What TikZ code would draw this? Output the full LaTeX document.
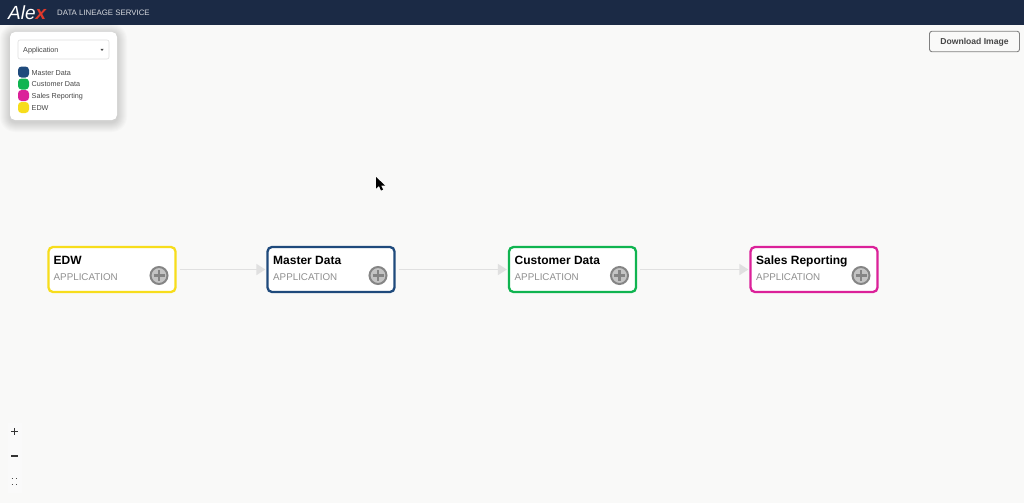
\documentclass[tikz,border=0pt]{standalone}
\usepackage{fontspec}
\setmainfont{Liberation Sans}
\usetikzlibrary{arrows.meta}
\definecolor{navy}{HTML}{1B2A45}
\definecolor{cbg}{HTML}{F9F9F8}
\definecolor{cblue}{HTML}{1F4A7C}
\definecolor{cgreen}{HTML}{10B450}
\definecolor{cpink}{HTML}{DB2199}
\definecolor{cyellow}{HTML}{F7DD1C}
\definecolor{cedge}{HTML}{E0E0E0}
\definecolor{cgrey}{HTML}{8F8F8F}
\definecolor{cplus}{HTML}{C4C4C4}
\definecolor{clogo}{HTML}{E0392B}
\tikzset{
  x=1pt,y=-1pt,
  card/.style={draw=#1,line width=2.3pt,fill=white,rounded corners=4.5pt,minimum width=127pt,minimum height=45pt,inner sep=0pt},
  title/.style={font=\bfseries\fontsize{12}{14}\selectfont,text=black,anchor=base west,inner sep=0pt},
  subtitle/.style={font=\fontsize{9.8}{12}\selectfont,text=cgrey,anchor=base west,inner sep=0pt},
  plusbtn/.style={circle,draw=black!48,line width=2pt,fill=cplus,minimum size=17pt,inner sep=0pt},
  link/.style={draw=cedge,line width=1.7pt,-{Triangle[length=9pt,width=11pt,fill=cedge]},shorten >=1pt},
  swatch/.style={rounded corners=3.5pt,minimum width=11pt,minimum height=11pt,inner sep=0pt},
  legendtext/.style={font=\fontsize{7.2}{9}\selectfont,text=black!72,anchor=base west,inner sep=0pt},
}
\newcommand{\plusmark}[1]{\draw[line width=2.2pt,draw=black!48] ([xshift=-5.5pt]#1.center) -- ([xshift=5.5pt]#1.center) ([yshift=-5.5pt]#1.center) -- ([yshift=5.5pt]#1.center);}
\begin{document}
\begin{tikzpicture}
\useasboundingbox (0,0) rectangle (1024,503);
\fill[cbg] (0,0) rectangle (1024,503);
% header
\fill[navy] (0,0) rectangle (1024,25);
\node[anchor=base west,inner sep=0pt,font=\itshape\fontsize{19}{20}\selectfont,text=white] (logo) at (8,19.5) {Ale\textcolor{clogo}{\bfseries x}};
\node[anchor=base west,inner sep=0pt,font=\fontsize{7.85}{9}\selectfont,text=white!82!navy] (svc) at (57,15.5) {DATA LINEAGE SERVICE};
% legend panel
\foreach \g in {10,9,8,7,6,5,4,3,2,1}
  \fill[black,opacity=.016,rounded corners=5pt+\g pt] (10-\g,32-\g+2) rectangle (117+\g,120+\g+2);
\fill[white,rounded corners=5pt] (10,32) rectangle (117,120);
\node[draw=black!13,rounded corners=2pt,line width=.6pt,minimum width=91pt,minimum height=19pt,inner sep=0pt] (sel) at (63.5,49.5) {};
\node[legendtext] (seltxt) at (23,52.2) {Application};
\fill[black!70] (100.5,49) -- (103.5,49) -- (102,51) -- cycle;
\node[swatch,fill=cblue] (s1) at (23.5,72) {};
\node[swatch,fill=cgreen] (s2) at (23.5,84) {};
\node[swatch,fill=cpink] (s3) at (23.5,95.5) {};
\node[swatch,fill=cyellow] (s4) at (23.5,107.5) {};
\node[legendtext] (l1) at (31.5,75) {Master Data};
\node[legendtext] (l2) at (31.5,86.5) {Customer Data};
\node[legendtext] (l3) at (31.5,98.5) {Sales Reporting};
\node[legendtext] (l4) at (31.5,110) {EDW};
% download button
\node[draw=black!50,fill=cbg,rounded corners=2.5pt,line width=.9pt,minimum width=90pt,minimum height=20.5pt,inner sep=0pt] (dl) at (974.5,41.5) {};
\node[anchor=base,inner sep=0pt,font=\fontsize{8.6}{10}\selectfont\bfseries,text=black!72] (dltxt) at (974.5,44.5) {Download Image};
% cursor
\fill[black] (376,177) -- (376,188.5) -- (379,186) -- (381,190.5) -- (383,189.5) -- (381,185.5) -- (385,185.5) -- cycle;
% cards
\node[card=cyellow] (edw) at (112,269.5) {};
\node[card=cblue] (md) at (331,269.5) {};
\node[card=cgreen] (cd) at (572.5,269.5) {};
\node[card=cpink] (sr) at (814,269.5) {};
% edges
\draw[link] (edw.east) ++(3,0) coordinate (e1) (e1) -- (md.west);
\draw[link] (md.east) ++(3,0) coordinate (e2) (e2) -- (cd.west);
\draw[link] (cd.east) ++(3,0) coordinate (e3) (e3) -- (sr.west);
% card text
\node[title] (t1) at (53.5,264.5) {EDW};
\node[subtitle] (u1) at (53.5,280.5) {APPLICATION};
\node[title] (t2) at (273,264.5) {Master Data};
\node[subtitle] (u2) at (273,280.5) {APPLICATION};
\node[title] (t3) at (514.5,264.5) {Customer Data};
\node[subtitle] (u3) at (514.5,280.5) {APPLICATION};
\node[title] (t4) at (756,264.5) {Sales Reporting};
\node[subtitle] (u4) at (756,280.5) {APPLICATION};
\node[plusbtn] (p1) at (159,275.5) {}; \plusmark{p1}
\node[plusbtn] (p2) at (378,275.5) {}; \plusmark{p2}
\node[plusbtn] (p3) at (619.5,275.5) {}; \plusmark{p3}
\node[plusbtn] (p4) at (861,275.5) {}; \plusmark{p4}
% zoom controls
\fill[white!98!black] (8,423) rectangle (22,493);
\draw[line width=1.1pt,black!80] (11,431.5) -- (18,431.5) (14.5,428) -- (14.5,435);
\draw[line width=1.1pt,black!80] (11,456) -- (18,456);
\draw[line width=1pt,black!70,densely dotted] (11.5,478.5) -- (13,478.5) (16,478.5) -- (17.5,478.5) (11.5,484) -- (13,484) (16,484) -- (17.5,484);
\end{tikzpicture}
\end{document}
